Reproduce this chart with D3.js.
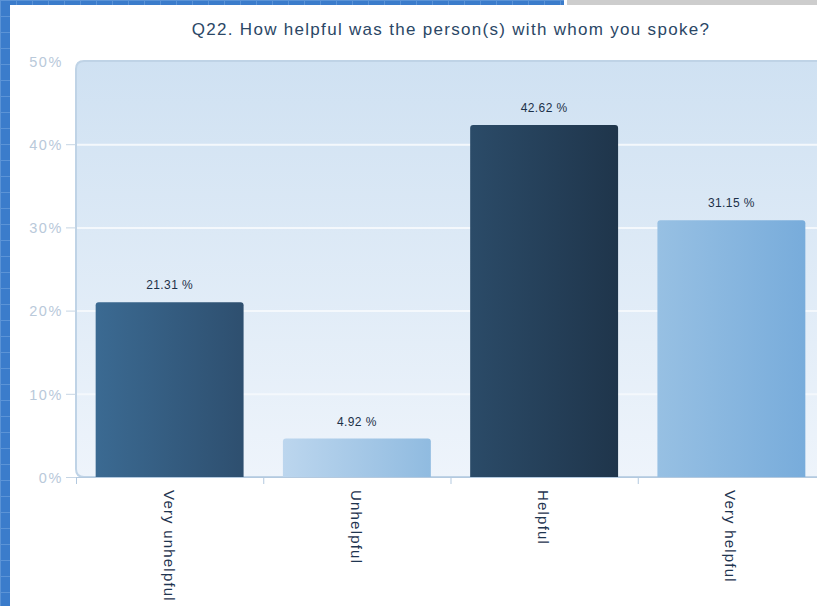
<!DOCTYPE html>
<html><head><meta charset="utf-8">
<script src="https://cdn.jsdelivr.net/npm/d3@7"></script>
<style>html,body{margin:0;padding:0;overflow:hidden;background:#fff}svg{display:block}</style>
</head><body><svg id="c" width="817" height="606"></svg>
<script>
const categories = ["Very unhelpful", "Unhelpful", "Helpful", "Very helpful"];
const values = [21.31, 4.92, 42.62, 31.15];
const yTicks = [0, 10, 20, 30, 40, 50];
const title = "Q22. How helpful was the person(s) with whom you spoke?";
const barColors = [["#3b6a92", "#2e4f6f"], ["#bcd6ee", "#90bbe0"], ["#2b4b68", "#1f354b"], ["#97c0e3", "#78acdb"]];

(function () {
const FONT = "Arial, 'Liberation Sans', sans-serif";
const svg = d3.select("#c");
const defs = svg.append("defs");

// background blue grid frame
const pat = defs.append("pattern").attr("id", "grid").attr("width", 16).attr("height", 16).attr("patternUnits", "userSpaceOnUse");
pat.append("rect").attr("width", 16).attr("height", 16).attr("fill", "#3b7ccb");
pat.append("path").attr("d", "M0 0.5H16M0.5 0V16").attr("stroke", "#5b93d6").attr("stroke-width", 1);
svg.append("rect").attr("width", 817).attr("height", 606).attr("fill", "url(#grid)");
svg.append("rect").attr("x", 564).attr("y", 0).attr("width", 253).attr("height", 5).attr("fill", "#ffffff");
svg.append("rect").attr("x", 567).attr("y", 0).attr("width", 250).attr("height", 5).attr("fill", "#cdcdcd");
svg.append("rect").attr("x", 10).attr("y", 5).attr("width", 807).attr("height", 601).attr("fill", "#ffffff");

const pL = 76, pR = 825, pT = 61, pB = 477;
const x = d3.scaleBand().domain(categories).range([pL, pR]).paddingInner(0.21).paddingOuter(0.105);
const y = d3.scaleLinear().domain([0, 50]).range([pB, pT]);

// plot background gradient
const bg = defs.append("linearGradient").attr("id", "bg").attr("x1", 0).attr("y1", 0).attr("x2", 0).attr("y2", 1);
bg.append("stop").attr("offset", "0%").attr("stop-color", "#cfe1f2");
bg.append("stop").attr("offset", "100%").attr("stop-color", "#eef4fb");
svg.append("path")
  .attr("d", `M${pL},${pB - 8} V${pT + 8} Q${pL},${pT} ${pL + 8},${pT} H${pR} V${pB} H${pL + 8} Q${pL},${pB} ${pL},${pB - 8}Z`)
  .attr("fill", "url(#bg)").attr("stroke", "#bfd3e6").attr("stroke-width", 2);

// gridlines
svg.append("g").selectAll("line").data(yTicks.filter(d => d > 0 && d < 50)).join("line")
  .attr("x1", pL + 1).attr("x2", pR).attr("y1", d => y(d) + 0.5).attr("y2", d => y(d) + 0.5)
  .attr("stroke", "#f4f8fc").attr("stroke-width", 2);

// y axis
const yAxis = d3.axisLeft(y).tickValues(yTicks).tickFormat(d => d + "%").tickSize(10).tickPadding(3);
const ya = svg.append("g").attr("transform", `translate(${pL},0)`).call(yAxis);
ya.select(".domain").remove();
ya.selectAll(".tick line").attr("stroke", "#c6d5e4");
ya.selectAll(".tick text").attr("fill", "#b9c9da").attr("font-family", FONT).attr("font-size", 14.5)
  .attr("letter-spacing", 1.6).attr("dy", "0.36em");
ya.selectAll(".tick").filter(d => d === 50).select("line").remove();

// bar gradients
barColors.forEach((c, i) => {
  const g = defs.append("linearGradient").attr("id", "bar" + i).attr("x1", 0).attr("y1", 0).attr("x2", 1).attr("y2", 0);
  g.append("stop").attr("offset", "0%").attr("stop-color", c[0]);
  g.append("stop").attr("offset", "100%").attr("stop-color", c[1]);
});

const r = 3, off = 2.5;
svg.append("g").selectAll("path").data(values).join("path")
  .attr("d", (d, i) => {
    const x0 = x(categories[i]), w = x.bandwidth(), y0 = y(d) + off, yb = y(0);
    return `M${x0},${yb} V${y0 + r} Q${x0},${y0} ${x0 + r},${y0} H${x0 + w - r} Q${x0 + w},${y0} ${x0 + w},${y0 + r} V${yb} Z`;
  })
  .attr("fill", (d, i) => `url(#bar${i})`);

// value labels
svg.append("g").selectAll("text").data(values).join("text")
  .attr("x", (d, i) => x(categories[i]) + x.bandwidth() / 2)
  .attr("y", d => y(d) + off - 13)
  .attr("text-anchor", "middle")
  .attr("font-family", FONT).attr("font-size", 12).attr("letter-spacing", 0.4)
  .attr("fill", "#1c3048")
  .text(d => d.toFixed(2) + " %");

// x axis
svg.append("line").attr("x1", pL).attr("x2", pR).attr("y1", pB + 0.5).attr("y2", pB + 0.5).attr("stroke", "#b3c9df");
const bounds = d3.range(categories.length + 1).map(i => pL + i * (pR - pL) / categories.length);
svg.append("g").selectAll("line").data(bounds).join("line")
  .attr("x1", d => d + 0.5).attr("x2", d => d + 0.5).attr("y1", pB).attr("y2", pB + 7)
  .attr("stroke", "#b3c9df");

svg.append("g").selectAll("text").data(categories).join("text")
  .attr("transform", d => `translate(${x(d) + x.bandwidth() / 2 - 6},${pB + 13}) rotate(90)`)
  .attr("text-anchor", "start")
  .attr("font-family", FONT).attr("font-size", 15).attr("letter-spacing", 1.2)
  .attr("fill", "#1f3550")
  .text(d => d);

// title
svg.append("text").attr("x", 451).attr("y", 35).attr("text-anchor", "middle")
  .attr("font-family", FONT).attr("font-size", 17).attr("letter-spacing", 1.3)
  .attr("fill", "#2b4766").text(title);
})();
</script></body></html>
